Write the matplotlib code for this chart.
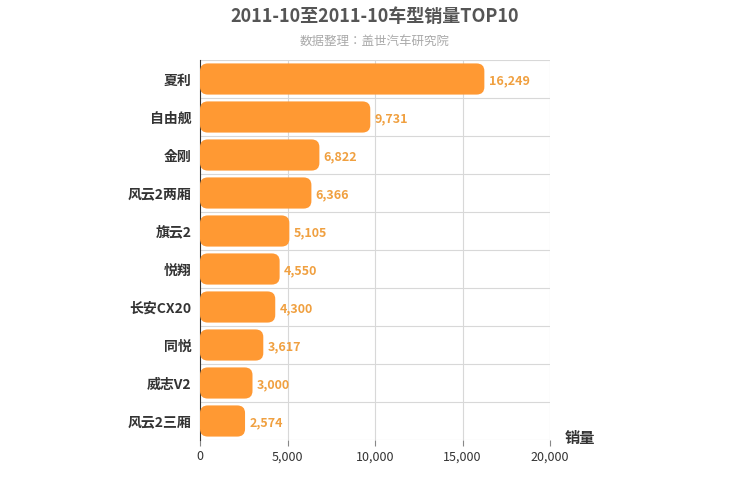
import matplotlib.pyplot as plt
from matplotlib.patches import FancyBboxPatch

plt.rcParams["font.family"] = ["Noto Sans CJK SC", "Noto Sans CJK JP", "Noto Sans CJK TC",
                               "Noto Sans CJK KR", "DejaVu Sans"]

categories = ["夏利", "自由舰", "金刚", "风云2两厢", "旗云2", "悦翔", "长安CX20", "同悦", "威志V2", "风云2三厢"]
sales = [16249, 9731, 6822, 6366, 5105, 4550, 4300, 3617, 3000, 2574]
xticks = [0, 5000, 10000, 15000, 20000]

fig = plt.figure(figsize=(7.5, 5), dpi=100)
ax = fig.add_axes([200 / 750, 60 / 500, 350 / 750, 380 / 500])
n = len(categories)
ax.set_xlim(0, 20000)
ax.set_ylim(n, 0)

bar_color = "#ff9933"
h = 0.82
for i, v in enumerate(sales):
    y = i + (1 - h) / 2
    ax.add_patch(FancyBboxPatch((0, y), v, h,
                                boxstyle="round,pad=0,rounding_size=450",
                                mutation_aspect=0.2 / 450,
                                fc=bar_color, ec="none", zorder=3))
    ax.text(v + 250, i + 0.55, f"{v:,}", color="#f0a040", fontsize=9,
            fontweight="bold", va="center", ha="left", zorder=4)

for x in xticks[1:]:
    ax.axvline(x, color="#d8d8d8", lw=0.8, zorder=1)
for k in range(n + 1):
    ax.axhline(k, color="#d8d8d8", lw=0.8, zorder=1)

ax.set_yticks([i + 0.5 for i in range(n)])
ax.set_yticklabels(categories, fontsize=10, fontweight="bold", color="#333333")
ax.set_xticks(xticks)
ax.set_xticklabels([f"{x:,}" for x in xticks], fontsize=9, color="#333333")
ax.tick_params(axis="y", length=0, pad=6)
ax.tick_params(axis="x", length=4, color="#888888")
for s in ["top", "right", "bottom"]:
    ax.spines[s].set_visible(False)
ax.spines["left"].set_color("#333333")

fig.text(0.5, 1 - 16 / 500, "2011-10至2011-10车型销量TOP10", ha="center", va="center",
         fontsize=13, fontweight="bold", color="#555555")
fig.text(0.5, 1 - 41 / 500, "数据整理：盖世汽车研究院", ha="center", va="center",
         fontsize=9, color="#aaaaaa")
fig.text(580 / 750, 1 - 438 / 500, "销量", ha="center", va="center",
         fontsize=11, fontweight="bold", color="#333333")

fig.savefig("out.png", dpi=100)
